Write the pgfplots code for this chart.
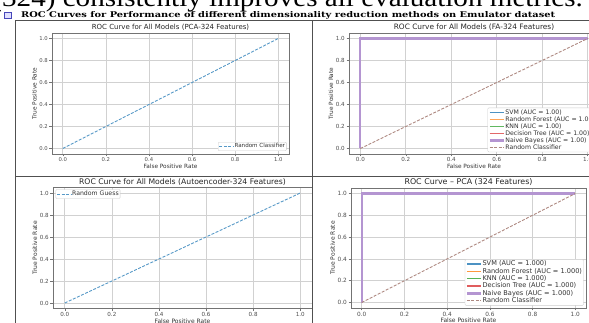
\documentclass[border=0pt]{standalone}
\usepackage{fontspec}
\setmainfont{DejaVu Sans}
\newfontfamily\titleserif{DejaVu Serif}
\newfontfamily\bigserif{Liberation Serif}
\usepackage{pgfplots}
\pgfplotsset{compat=1.18}
\definecolor{cZero}{HTML}{1F77B4}
\definecolor{cOne}{HTML}{FF7F0E}
\definecolor{cTwo}{HTML}{2CA02C}
\definecolor{cThree}{HTML}{D62728}
\definecolor{cFour}{HTML}{9467BD}
\definecolor{cFive}{HTML}{8C564B}
\definecolor{divider}{HTML}{505050}
\pgfplotsset{
  rocax/.style={
    scale only axis,
    xmin=-0.05, xmax=1.05, ymin=-0.05, ymax=1.05,
    xtick={0,0.2,0.4,0.6,0.8,1.0}, ytick={0,0.2,0.4,0.6,0.8,1.0},
    /pgf/number format/.cd, fixed, fixed zerofill, precision=1, assume math mode=true,
    /pgfplots/.cd,
    grid=major,
    grid style={black!18, line width=0.7pt},
    axis line style={black!55, line width=0.7pt},
    tick style={black!55, line width=0.5pt},
    tick align=outside, major tick length=2.5pt,
    xtick pos=bottom, ytick pos=left,
    xticklabel style={inner sep=1pt, text=black!70},
    yticklabel style={inner sep=1.5pt, text=black!70},
    label style={text=black!80},
    title style={inner sep=1pt, yshift=-5pt, text=black!85},
    xlabel={False Positive Rate}, ylabel={True Positive Rate},
    xlabel style={inner sep=1pt},
    ylabel style={inner sep=1pt},
    legend cell align=left,
    legend style={draw=black!20, rounded corners=1pt, fill=white,
      text=black!80, inner sep=0.8pt, nodes={inner sep=0.6pt}, row sep=-0.4pt},
    legend image code/.code={\draw[##1] (0pt,0pt) -- (14pt,0pt);},
  },
  randblue/.style={cZero!75!white, line width=0.9pt, dash pattern=on 3pt off 1.5pt},
  randbrown/.style={cFive!70!white, line width=0.9pt, dash pattern=on 3pt off 1.5pt},
  roc/.style={line width=1.4pt},
  rocnb/.style={line width=2.2pt, cFour!70!white},
}
\begin{document}
\begin{tikzpicture}[x=1pt,y=1pt]
\useasboundingbox (0pt,0pt) rectangle (589pt,323pt);
% cut-off line of body text above the figure
\node[anchor=base east, inner sep=0pt] at (583pt,316pt) {\scalebox{1.12}[1]{\bigserif\fontsize{26}{28}\selectfont (324) consistently improves all evaluation metrics.}};
% small icon
\draw[draw=blue!45!gray, fill=blue!12, line width=0.5pt] (4pt,304.5pt) rectangle (11pt,311pt);
% figure title
\node[anchor=base west, inner sep=0pt] at (21pt,305.8pt) {\resizebox{534pt}{6pt}{\titleserif\bfseries ROC Curves for Performance of different dimensionality reduction methods on Emulator dataset}};

% ---------- Top-left: PCA-324 ----------
\begin{axis}[rocax, at={(52pt,169pt)}, anchor=south west, width=237pt, height=121pt,
  title={ROC Curve for All Models (PCA-324 Features)},
  title style={font=\fontsize{7}{8}\selectfont},
  tick label style={font=\fontsize{5.3}{6}\selectfont},
  label style={font=\fontsize{5.8}{6.5}\selectfont},
  legend style={font=\fontsize{5.6}{6.5}\selectfont, at={(0.99,0.025)}, anchor=south east}]
\addplot[randblue] coordinates {(0,0) (1,1)};
\addlegendentry{Random Classifier}
\end{axis}

% ---------- Top-right: FA-324 ----------
\begin{axis}[rocax, at={(349pt,169pt)}, anchor=south west, width=250pt, height=121pt,
  title={ROC Curve for All Models (FA-324 Features)},
  title style={font=\fontsize{7.4}{8.4}\selectfont},
  tick label style={font=\fontsize{5.6}{6.4}\selectfont},
  label style={font=\fontsize{5.8}{6.5}\selectfont},
  legend style={font=\fontsize{6.2}{7}\selectfont, at={(0.99,0.015)}, anchor=south east}]
\addplot[roc, cZero!80!white] coordinates {(0,0) (0,1) (1,1)};
\addlegendentry{SVM (AUC = 1.00)}
\addplot[roc, cOne!70!white] coordinates {(0,0) (0,1) (1,1)};
\addlegendentry{Random Forest (AUC = 1.00)}
\addplot[roc, cTwo!75!white] coordinates {(0,0) (0,1) (1,1)};
\addlegendentry{KNN (AUC = 1.00)}
\addplot[roc, cThree!70!white] coordinates {(0,0) (0,1) (1,1)};
\addlegendentry{Decision Tree (AUC = 1.00)}
\addplot[rocnb] coordinates {(0,0) (0,1) (1,1)};
\addlegendentry{Naive Bayes (AUC = 1.00)}
\addplot[randbrown] coordinates {(0,0) (1,1)};
\addlegendentry{Random Classifier}
\end{axis}

% ---------- Bottom-left: Autoencoder-324 ----------
\begin{axis}[rocax, at={(53pt,14.5pt)}, anchor=south west, width=259pt, height=121pt,
  title={ROC Curve for All Models (Autoencoder-324 Features)},
  title style={font=\fontsize{7.7}{8.6}\selectfont},
  tick label style={font=\fontsize{5.6}{6.4}\selectfont},
  label style={font=\fontsize{6}{6.8}\selectfont},
  legend style={font=\fontsize{6.2}{7}\selectfont, at={(0.01,0.985)}, anchor=north west}]
\addplot[randblue] coordinates {(0,0) (1,1)};
\addlegendentry{Random Guess}
\end{axis}

% ---------- Bottom-right: PCA (324) ----------
\begin{axis}[rocax, at={(351pt,15pt)}, anchor=south west, width=235pt, height=120pt,
  title={ROC Curve -- PCA (324 Features)},
  title style={font=\fontsize{7.9}{8.8}\selectfont},
  tick label style={font=\fontsize{5.8}{6.6}\selectfont},
  label style={font=\fontsize{6}{6.8}\selectfont},
  legend style={font=\fontsize{6.6}{7.4}\selectfont, at={(0.99,0.02)}, anchor=south east}]
\addplot[roc, cZero!80!white] coordinates {(0,0) (0,1) (1,1)};
\addlegendentry{SVM (AUC = 1.000)}
\addplot[roc, cOne!80!white] coordinates {(0,0) (0,1) (1,1)};
\addlegendentry{Random Forest (AUC = 1.000)}
\addplot[roc, cTwo!80!white] coordinates {(0,0) (0,1) (1,1)};
\addlegendentry{KNN (AUC = 1.000)}
\addplot[roc, cThree!75!white] coordinates {(0,0) (0,1) (1,1)};
\addlegendentry{Decision Tree (AUC = 1.000)}
\addplot[rocnb] coordinates {(0,0) (0,1) (1,1)};
\addlegendentry{Naive Bayes (AUC = 1.000)}
\addplot[randbrown] coordinates {(0,0) (1,1)};
\addlegendentry{Random Classifier}
\end{axis}

% table borders
\draw[divider, line width=0.9pt] (15pt,303pt) -- (589pt,303pt);
\draw[divider, line width=0.9pt] (15pt,147pt) -- (589pt,147pt);
\draw[divider, line width=0.9pt] (15pt,0pt) -- (15pt,303pt);
\draw[divider, line width=0.9pt] (312pt,0pt) -- (312pt,303pt);
\end{tikzpicture}
\end{document}
